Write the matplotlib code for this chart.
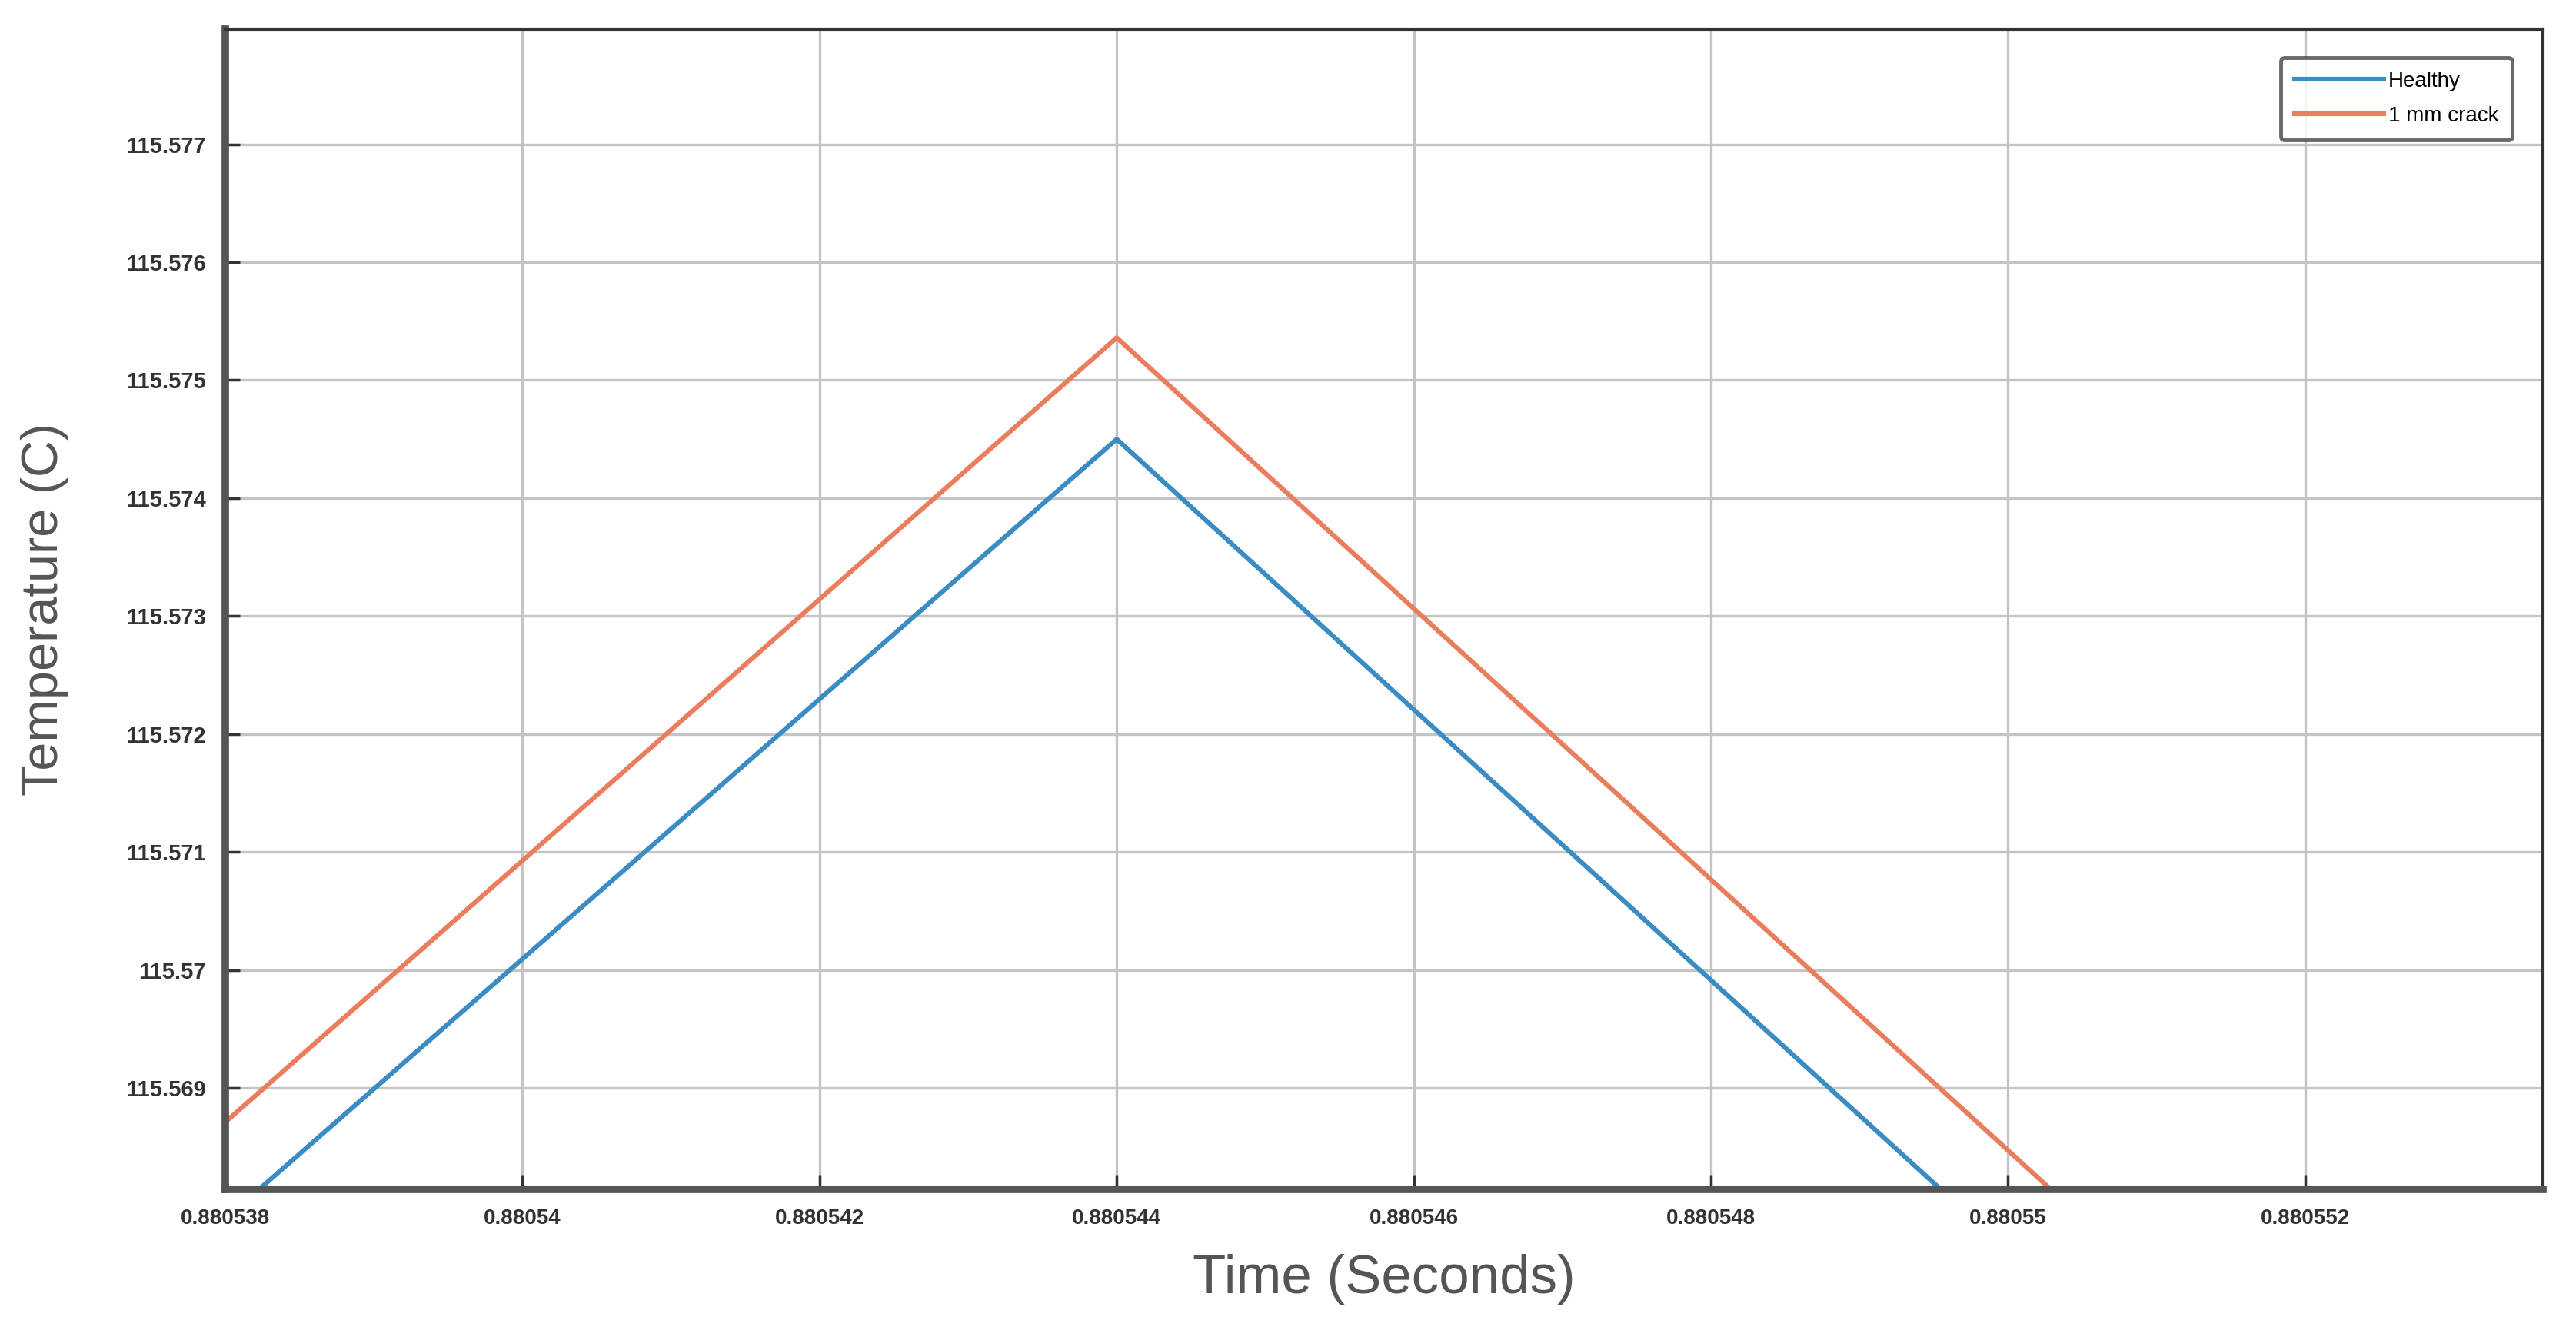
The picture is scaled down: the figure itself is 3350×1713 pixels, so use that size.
import matplotlib.pyplot as plt

# values (last point lies below the visible range)
time_s = [0.880538, 0.880544, 0.880550, 0.880556]
healthy = [115.56789, 115.57450, 115.56762, 115.56074]
crack_1mm = [115.56871, 115.57536, 115.56847, 115.56158]

x_ticks = [0.880538, 0.88054, 0.880542, 0.880544, 0.880546, 0.880548, 0.88055, 0.880552]
x_labels = ["0.880538", "0.88054", "0.880542", "0.880544", "0.880546", "0.880548", "0.88055", "0.880552"]
y_ticks = [115.569, 115.57, 115.571, 115.572, 115.573, 115.574, 115.575, 115.576, 115.577]
y_labels = ["115.569", "115.57", "115.571", "115.572", "115.573", "115.574", "115.575", "115.576", "115.577"]

plt.rcParams['font.family'] = ['Liberation Sans', 'DejaVu Sans']

fig = plt.figure(figsize=(33.5, 17.13), dpi=100)
ax = fig.add_axes([293 / 3350, 1 - 1547 / 1713, (3307 - 293) / 3350, (1547 - 38) / 1713])

ax.plot(time_s, healthy, color='#3a8cc2', lw=4.4, label='Healthy')
ax.plot(time_s, crack_1mm, color='#ea7d5d', lw=4.4, label='1 mm crack')

ax.set_xlim(0.880538, 0.8805536)
ax.set_ylim(115.56814, 115.577975)
ax.set_xticks(x_ticks)
ax.set_xticklabels(x_labels)
ax.set_yticks(y_ticks)
ax.set_yticklabels(y_labels)

ax.grid(True, color='#c4c4c4', lw=2.4)
ax.set_axisbelow(True)

ax.tick_params(direction='in', length=14, width=2.5, color='#333333',
               labelsize=20, labelcolor='#333333', pad=18, top=False, right=False)
ax.tick_params(axis='y', labelsize=21)
for lab in ax.get_xticklabels() + ax.get_yticklabels():
    lab.set_fontweight('bold')

# MATLAB-like box: heavy left/bottom, thin top/right
for side in ['left', 'bottom']:
    ax.spines[side].set_linewidth(7)
    ax.spines[side].set_color('#555555')
for side in ['top', 'right']:
    ax.spines[side].set_linewidth(3)
    ax.spines[side].set_color('#333333')

ax.set_xlabel('Time (Seconds)', fontsize=51, color='#555555', labelpad=24)
ax.set_ylabel('Temperature (C)', fontsize=48, color='#555555', labelpad=54)

leg = ax.legend(loc='upper right', bbox_to_anchor=(0.9915, 0.985), fontsize=20,
                frameon=True, fancybox=True, handlelength=4.2, handletextpad=0.2,
                borderpad=0.65, labelspacing=0.7)
leg.get_frame().set_edgecolor('#444444')
leg.get_frame().set_linewidth(3.5)

fig.savefig('out.png', dpi=100)
